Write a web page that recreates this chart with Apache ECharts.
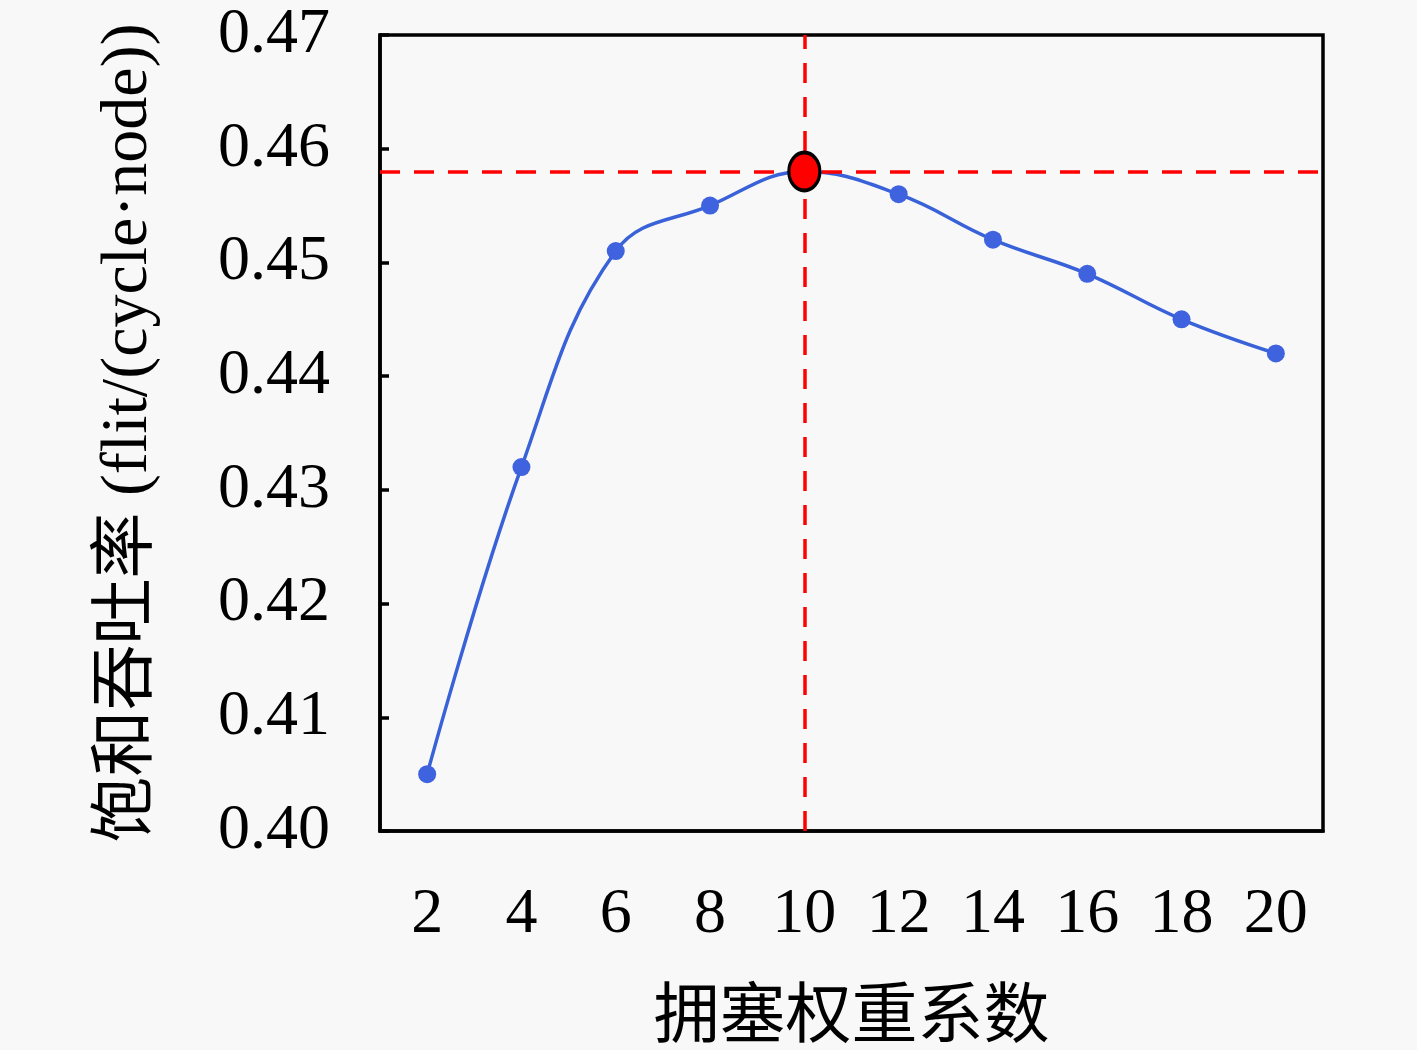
<!DOCTYPE html>
<html>
<head>
<meta charset="utf-8">
<script src="https://cdn.jsdelivr.net/npm/echarts@6/dist/echarts.min.js"></script>
<style>
html,body{margin:0;padding:0;background:#f8f8f8;}
#c{width:1417px;height:1050px;}
</style>
</head>
<body>
<div id="c"></div>
<script>
const categories = ['2','4','6','8','10','12','14','16','18','20'];
const throughput = [0.405, 0.432, 0.451, 0.455, 0.458, 0.456, 0.452, 0.449, 0.445, 0.442];
const optimumX = '10';
const optimumY = 0.458;
const yTicks = { min: 0.40, max: 0.47, interval: 0.01 };
const xName = '拥塞权重系数';
const yName = '饱和吞吐率 (flit/(cycle·node))';

const serif = '"Liberation Serif","Noto Sans CJK SC",serif';
const chart = echarts.init(document.getElementById('c'));
chart.setOption({
  backgroundColor: '#f8f8f8',
  animation: false,
  grid: { left: 380, right: 94, top: 35, bottom: 214, show: true, borderColor: '#000', borderWidth: 3.5, backgroundColor: 'transparent' },
  xAxis: {
    type: 'category',
    data: categories,
    boundaryGap: true,
    name: xName,
    nameLocation: 'middle',
    nameGap: 148,
    nameTextStyle: { fontFamily: '"Noto Sans CJK SC"', fontSize: 66, color: '#000' },
    axisLine: { lineStyle: { color: '#000', width: 3.5 } },
    axisTick: { inside: true, alignWithLabel: true, length: 9, lineStyle: { color: '#000', width: 3.5 } },
    axisLabel: { fontFamily: serif, fontSize: 64, color: '#000', margin: 52 },
    splitLine: { show: false }
  },
  yAxis: {
    type: 'value',
    min: yTicks.min, max: yTicks.max, interval: yTicks.interval,
    name: yName,
    nameLocation: 'middle',
    nameRotate: 90,
    nameGap: 218,
    nameTextStyle: { fontFamily: serif, fontSize: 66, color: '#000' },
    axisLine: { show: true, lineStyle: { color: '#000', width: 3.5 } },
    axisTick: { show: true, inside: true, length: 9, lineStyle: { color: '#000', width: 3.5 } },
    axisLabel: { fontFamily: serif, fontSize: 64, color: '#000', margin: 50, formatter: v => v.toFixed(2) },
    splitLine: { show: false }
  },
  series: [
    {
      type: 'line',
      data: throughput,
      smooth: 0.4,
      symbol: 'circle',
      symbolSize: 18,
      itemStyle: { color: '#3f62de' },
      lineStyle: { color: '#3a62d8', width: 3.5 },
      markLine: {
        silent: true,
        symbol: 'none',
        precision: 3,
        label: { show: false },
        lineStyle: { color: '#ff0000', type: [20, 14], width: 3.5 },
        data: [ { xAxis: optimumX }, { yAxis: optimumY } ]
      },
      z: 3
    },
    {
      type: 'scatter',
      data: [[optimumX, optimumY]],
      symbol: 'circle',
      symbolSize: [31, 38],
      itemStyle: { color: '#ff0000', borderColor: '#000', borderWidth: 3.5, opacity: 1 },
      z: 5
    }
  ]
});
</script>
</body>
</html>
